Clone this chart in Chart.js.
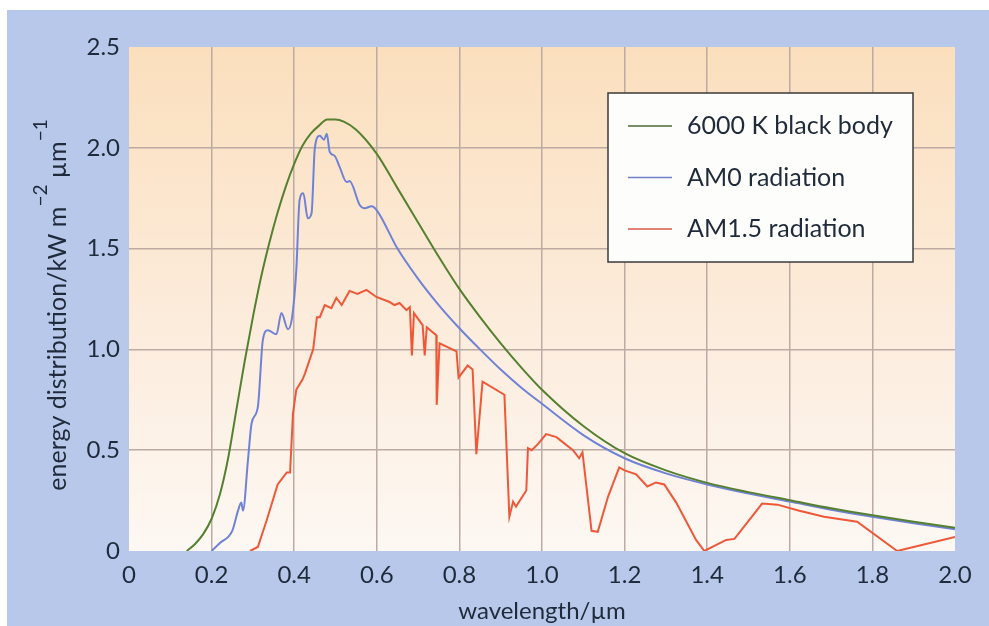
<!DOCTYPE html>
<html>
<head>
  <meta charset="utf-8">
  <title>Solar spectrum: black body, AM0, AM1.5</title>
  <script src="https://cdn.jsdelivr.net/npm/chart.js"></script>
  <style>
    body { margin: 0; padding: 0; background: #fff; }
    #chart { display: block; }
  </style>
</head>
<body>
  <canvas id="chart" width="989" height="626"></canvas>

  <script>
    // --- data (wavelength in um, energy in kW m^-2 um^-1) ---
    const seriesNames = ['6000 K black body', 'AM0 radiation', 'AM1.5 radiation'];

    const blackBodyWl  = [0.14, 0.16, 0.18, 0.20, 0.22, 0.24, 0.26, 0.28, 0.30, 0.32, 0.34, 0.36, 0.38, 0.40,
                          0.42, 0.44, 0.46, 0.48, 0.50, 0.52, 0.55, 0.60, 0.65, 0.70, 0.75, 0.80, 0.85, 0.90,
                          0.95, 1.00, 1.10, 1.20, 1.30, 1.40, 1.50, 1.60, 1.70, 1.80, 1.90, 2.00];
    const blackBodyVal = [0.00, 0.035, 0.085, 0.16, 0.28, 0.46, 0.70, 0.94, 1.16, 1.36, 1.53, 1.68, 1.81, 1.92,
                          2.01, 2.07, 2.11, 2.14, 2.14, 2.13, 2.09, 1.97, 1.80, 1.63, 1.46, 1.30, 1.16, 1.03,
                          0.91, 0.80, 0.62, 0.485, 0.40, 0.338, 0.292, 0.252, 0.212, 0.177, 0.145, 0.115];

    const am0Wl  = [0.200, 0.220, 0.250, 0.264, 0.272, 0.276, 0.288, 0.297, 0.312, 0.324, 0.336, 0.357, 0.369,
                    0.385, 0.395, 0.405, 0.413, 0.422, 0.433, 0.442, 0.450, 0.462, 0.472, 0.479, 0.486, 0.498,
                    0.510, 0.527, 0.534, 0.559, 0.571, 0.587, 0.600, 0.650, 0.700, 0.750, 0.800, 0.850, 0.900,
                    0.950, 1.000, 1.100, 1.200, 1.300, 1.400, 1.500, 1.600, 1.700, 1.800, 1.900, 2.000];
    const am0Val = [0.00, 0.04, 0.10, 0.20, 0.24, 0.20, 0.45, 0.635, 0.715, 1.045, 1.095, 1.075, 1.18,
                    1.10, 1.16, 1.39, 1.74, 1.775, 1.65, 1.675, 2.00, 2.06, 2.04, 2.07, 1.98, 1.96,
                    1.905, 1.83, 1.835, 1.715, 1.70, 1.71, 1.69, 1.50, 1.35, 1.22, 1.105, 1.00, 0.90,
                    0.81, 0.73, 0.575, 0.46, 0.385, 0.33, 0.285, 0.245, 0.205, 0.17, 0.138, 0.108];

    const am15Wl  = [0.293, 0.312, 0.333, 0.360, 0.382, 0.390, 0.397, 0.405, 0.420, 0.426, 0.446, 0.455, 0.462,
                     0.474, 0.490, 0.502, 0.515, 0.534, 0.553, 0.575, 0.599, 0.631, 0.643, 0.655, 0.672, 0.680,
                     0.685, 0.690, 0.711, 0.716, 0.721, 0.744, 0.745, 0.752, 0.793, 0.798, 0.820, 0.832, 0.841,
                     0.856, 0.909, 0.921, 0.930, 0.937, 0.962, 0.966, 0.975, 0.990, 1.010, 1.035, 1.075, 1.090,
                     1.098, 1.120, 1.135, 1.160, 1.187, 1.200, 1.228, 1.255, 1.276, 1.296, 1.325, 1.373, 1.393,
                     1.446, 1.466, 1.533, 1.570, 1.623, 1.683, 1.763, 1.860, 2.000];
    const am15Val = [0.00, 0.02, 0.15, 0.33, 0.39, 0.39, 0.68, 0.80, 0.85, 0.88, 1.00, 1.16, 1.16,
                     1.22, 1.205, 1.255, 1.22, 1.29, 1.275, 1.295, 1.26, 1.235, 1.22, 1.23, 1.195, 1.21,
                     0.97, 1.18, 1.12, 0.97, 1.11, 1.07, 0.725, 1.03, 0.99, 0.86, 0.92, 0.90, 0.48,
                     0.84, 0.775, 0.17, 0.245, 0.22, 0.30, 0.51, 0.50, 0.53, 0.58, 0.565, 0.50, 0.46,
                     0.49, 0.10, 0.095, 0.27, 0.415, 0.40, 0.38, 0.32, 0.34, 0.33, 0.24, 0.055, 0.00,
                     0.055, 0.06, 0.235, 0.23, 0.20, 0.17, 0.145, 0.00, 0.07];

    const xTickLabels = ['0', '0.2', '0.4', '0.6', '0.8', '1.0', '1.2', '1.4', '1.6', '1.8', '2.0'];
    const yTickLabels = ['0', '0.5', '1.0', '1.5', '2.0', '2.5'];
    const xTitle = 'wavelength/µm';
    // y title pieces: [text, isSuperscript]
    const yTitleParts = [['energy distribution/kW m', false], ['−2', true], [' µm', false], ['−1', true]];

    const toPoints = (xs, ys) => xs.map((x, i) => ({ x: x, y: ys[i] }));

    const lineColors = ['#55802f', '#7082d6', '#ee5838'];
    const legendColors = ['#4f6a35', '#6e80cc', '#d9574a'];
    const textColor = '#1f2a3a';
    const fontFamily = 'Lato, "Open Sans", sans-serif';

    // page background, plot area wash
    const backdrop = {
      id: 'backdrop',
      beforeDraw(chart) {
        const { ctx, chartArea: a, width, height } = chart;
        ctx.save();
        ctx.fillStyle = '#ffffff';
        ctx.fillRect(0, 0, width, height);
        ctx.fillStyle = '#b7c8ea';
        ctx.fillRect(7, 10, width - 7, height - 10);
        const g = ctx.createLinearGradient(0, a.top, 0, a.bottom);
        g.addColorStop(0, '#fbdfbd');
        g.addColorStop(0.55, '#fcecdc');
        g.addColorStop(1, '#fdf8f3');
        ctx.fillStyle = g;
        ctx.fillRect(a.left, a.top, a.right - a.left, a.bottom - a.top);
        ctx.restore();
      }
    };

    // rotated y title with raised exponents
    const yTitle = {
      id: 'yTitle',
      afterDraw(chart) {
        const { ctx, chartArea: a } = chart;
        const mainFont = '25px ' + fontFamily, supFont = '19px ' + fontFamily;
        ctx.save();
        let total = 0;
        yTitleParts.forEach(([t, sup]) => { ctx.font = sup ? supFont : mainFont; total += ctx.measureText(t).width; });
        ctx.translate(66, (a.top + a.bottom) / 2 + 6);
        ctx.rotate(-Math.PI / 2);
        ctx.fillStyle = textColor;
        ctx.textBaseline = 'alphabetic';
        ctx.textAlign = 'left';
        let x = -total / 2;
        yTitleParts.forEach(([t, sup]) => {
          ctx.font = sup ? supFont : mainFont;
          ctx.fillText(t, x, sup ? -19 : 0);
          x += ctx.measureText(t).width;
        });
        ctx.restore();
      }
    };

    // boxed legend inside the plot
    const boxLegend = {
      id: 'boxLegend',
      afterDraw(chart) {
        const { ctx, chartArea: a } = chart;
        const bx = a.right - 347, by = a.top + 46, bw = 305, bh = 169;
        ctx.save();
        ctx.fillStyle = '#fdfdfb';
        ctx.fillRect(bx, by, bw, bh);
        ctx.strokeStyle = '#3a3a3a';
        ctx.lineWidth = 1.5;
        ctx.strokeRect(bx, by, bw, bh);
        ctx.font = '25px ' + fontFamily;
        ctx.textBaseline = 'middle';
        ctx.textAlign = 'left';
        chart.data.datasets.forEach((ds, i) => {
          const y = by + 33 + i * 51.5;
          ctx.strokeStyle = legendColors[i];
          ctx.lineWidth = 1.5;
          ctx.beginPath();
          ctx.moveTo(bx + 20, y);
          ctx.lineTo(bx + 64, y);
          ctx.stroke();
          ctx.fillStyle = textColor;
          ctx.fillText(ds.label, bx + 79, y);
        });
        ctx.restore();
      }
    };

    const gridColor = (ctx, lo, hi) =>
      (Math.abs(ctx.tick.value - lo) < 1e-9 || Math.abs(ctx.tick.value - hi) < 1e-9) ? 'rgba(0,0,0,0)' : '#bcaaa4';

    new Chart(document.getElementById('chart').getContext('2d'), {
      type: 'line',
      data: {
        datasets: [
          { label: seriesNames[0], data: toPoints(blackBodyWl, blackBodyVal), borderColor: lineColors[0],
            borderWidth: 2, pointRadius: 0, cubicInterpolationMode: 'monotone' },
          { label: seriesNames[1], data: toPoints(am0Wl, am0Val), borderColor: lineColors[1],
            borderWidth: 2, pointRadius: 0, cubicInterpolationMode: 'monotone' },
          { label: seriesNames[2], data: toPoints(am15Wl, am15Val), borderColor: lineColors[2],
            borderWidth: 2, pointRadius: 0, tension: 0 }
        ]
      },
      options: {
        responsive: false,
        animation: false,
        layout: { padding: { left: 0, top: 47, right: 34, bottom: 0 } },
        plugins: { legend: { display: false }, tooltip: { enabled: false } },
        scales: {
          x: {
            type: 'linear', min: 0, max: 2,
            border: { display: false },
            grid: { color: c => gridColor(c, 0, 2), lineWidth: 1.5, drawTicks: false },
            ticks: {
              stepSize: 0.2, autoSkip: false, maxRotation: 0, padding: 10,
              color: textColor, font: { family: fontFamily, size: 24 },
              callback: (v, i) => xTickLabels[i]
            },
            title: {
              display: true, text: xTitle, color: textColor,
              font: { family: fontFamily, size: 24 }, padding: { top: 0, bottom: 0 }
            },
            afterFit: s => { s.height = 75; }
          },
          y: {
            type: 'linear', min: 0, max: 2.5,
            border: { display: false },
            grid: { color: c => gridColor(c, 0, 2.5), lineWidth: 1.5, drawTicks: false },
            ticks: {
              stepSize: 0.5, autoSkip: false, padding: 9,
              color: textColor, font: { family: fontFamily, size: 24 },
              callback: (v, i) => yTickLabels[i]
            },
            afterFit: s => { s.width = 129; }
          }
        }
      },
      plugins: [backdrop, yTitle, boxLegend]
    });
  </script>
</body>
</html>
